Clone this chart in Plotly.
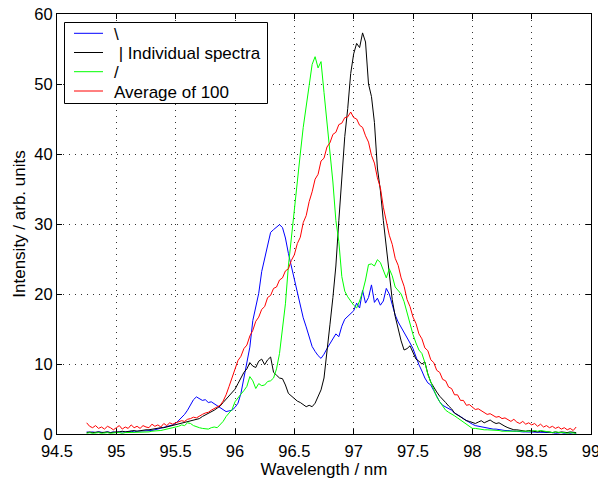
import numpy as np
import plotly.graph_objects as go

# Wavelength grid (nm): 94.75 .. 98.875 in 0.025 nm steps
wl_start = 94.75
wl_step = 0.025

blue = [
    0.3, 0.2, 0.3, 0.2, 0.3, 0.2, 0.2, 0.3, 0.2, 0.3,
    0.2, 0.3, 0.3, 0.2, 0.3, 0.4, 0.3, 0.4, 0.4, 0.5,
    0.4, 0.5, 0.5, 0.6, 0.7, 0.8, 0.9, 1.0, 1.2, 1.3,
    1.5, 1.9, 2.3, 2.8, 3.4, 4.2, 4.9, 5.3, 5.1, 4.8,
    4.9, 4.5, 4.6, 4.3, 4.1, 3.7, 3.5, 3.2, 3.3, 3.4,
    3.8, 4.4, 5.8, 8.0, 10.1, 12.4, 16.2, 18.0, 20.1, 23.2,
    25.0, 27.0, 28.8, 29.2, 29.5, 29.9, 29.5, 28.0, 25.8, 24.0,
    22.3, 20.6, 18.5, 16.6, 15.3, 13.8, 12.5, 11.8, 11.2, 10.8,
    11.4, 12.2, 12.9, 13.5, 14.3, 13.9, 15.4, 16.4, 16.8, 17.1,
    17.6, 18.7, 18.0, 20.5, 18.7, 19.5, 21.3, 18.8, 19.4, 18.4,
    19.0, 20.8, 20.0, 18.5, 17.0, 16.0, 15.3, 14.6, 13.9, 13.0,
    12.2, 10.9, 9.9, 9.0, 8.0, 7.3, 7.0, 6.2, 5.3, 4.6,
    4.1, 3.9, 3.6, 3.4, 3.0, 2.8, 2.5, 2.2, 1.9, 1.6,
    1.4, 1.2, 1.1, 1.0, 0.9, 0.9, 0.8, 0.7, 0.7, 0.6,
    0.6, 0.5, 0.5, 0.4, 0.4, 0.4, 0.3, 0.3, 0.3, 0.3,
    0.3, 0.2, 0.3, 0.2, 0.2, 0.2, 0.2, 0.2, 0.1, 0.2,
    0.2, 0.1, 0.2, 0.1, 0.2, 0.1,
]

black = [
    0.2, 0.3, 0.2, 0.3, 0.3, 0.2, 0.3, 0.3, 0.2, 0.3,
    0.3, 0.3, 0.4, 0.3, 0.4, 0.4, 0.5, 0.4, 0.5, 0.5,
    0.6, 0.6, 0.7, 0.7, 0.8, 0.9, 0.9, 1.0, 1.1, 1.2,
    1.3, 1.4, 1.5, 1.6, 1.8, 1.9, 2.0, 2.1, 2.2, 2.5,
    2.7, 2.9, 3.1, 3.4, 3.7, 4.0, 4.5, 5.0, 5.4, 5.9,
    6.4, 7.2, 8.1, 8.8, 9.3, 10.2, 9.7, 9.5, 10.4, 10.7,
    9.9, 10.6, 11.0, 8.8, 8.4, 8.0, 7.9, 7.0, 5.8, 5.4,
    5.1, 4.7, 4.5, 4.2, 3.9, 4.1, 3.9, 4.4, 5.3, 6.3,
    8.0, 11.5, 15.6, 19.5, 24.0, 30.5, 37.0, 42.5, 46.5, 51.5,
    54.3, 55.8, 55.2, 57.3, 56.0, 50.0, 48.2, 44.5, 38.0, 34.8,
    30.5, 27.0, 23.0, 19.2, 16.8, 14.8, 13.3, 12.0, 12.2, 12.6,
    11.6, 10.7, 10.4, 10.0, 10.3, 8.6, 7.4, 6.6, 6.0, 5.4,
    5.0, 4.5, 4.0, 3.6, 3.0, 2.7, 2.4, 2.1, 1.9, 1.8,
    1.6, 1.5, 1.7, 1.9, 1.6, 1.8, 2.0, 1.7, 1.5, 1.6,
    1.3, 1.1, 0.9, 0.7, 0.6, 0.6, 0.5, 0.5, 0.4, 0.5,
    0.4, 0.4, 0.3, 0.4, 0.3, 0.3, 0.3, 0.2, 0.3, 0.2,
    0.3, 0.2, 0.2, 0.3, 0.2, 0.2,
]

green = [
    0.1, 0.2, 0.1, 0.2, 0.2, 0.1, 0.2, 0.2, 0.1, 0.2,
    0.2, 0.2, 0.1, 0.2, 0.2, 0.2, 0.3, 0.2, 0.2, 0.3,
    0.3, 0.3, 0.4, 0.4, 0.5, 0.5, 0.6, 0.7, 0.7, 0.8,
    0.9, 1.1, 1.3, 1.2, 1.6, 1.5, 1.2, 1.0, 0.9, 0.8,
    0.8, 0.7, 0.9, 1.0, 0.9, 1.3, 1.8, 2.5, 3.0, 3.5,
    4.6, 5.2, 5.7, 6.2, 6.8, 8.2, 7.6, 6.5, 7.2, 6.9,
    7.0, 7.5, 7.6, 8.0, 9.3, 11.5, 14.8, 18.6, 24.0, 28.2,
    32.6, 36.5, 40.0, 43.8, 46.5, 49.8, 52.8, 53.9, 52.3, 53.2,
    48.8, 44.5, 40.0, 36.0, 30.5, 27.5, 22.5, 20.4, 19.6, 19.0,
    18.4, 18.0, 19.0, 20.3, 22.0, 24.2, 24.3, 24.0, 24.9, 24.5,
    23.5, 22.3, 23.6, 22.6, 21.0, 20.5, 20.0, 18.9, 17.2, 15.6,
    14.2, 13.0, 12.0, 11.5, 10.2, 8.5, 7.4, 6.3, 5.3, 4.6,
    3.9, 3.4, 3.1, 2.9, 2.6, 2.3, 2.0, 1.7, 1.4, 1.0,
    0.8, 0.8, 0.7, 0.7, 0.6, 0.6, 0.6, 0.5, 0.5, 0.5,
    0.4, 0.4, 0.4, 0.3, 0.3, 0.4, 0.3, 0.3, 0.3, 0.3,
    0.4, 0.5, 0.4, 0.5, 0.4, 0.3, 0.3, 0.2, 0.3, 0.2,
    0.2, 0.2, 0.1, 0.2, 0.2, 0.1,
]

red = [
    1.6, 1.1, 0.9, 1.2, 0.8, 1.0, 0.7, 1.1, 0.9, 0.6,
    0.9, 1.2, 0.7, 1.0, 0.8, 1.3, 0.9, 1.1, 0.8, 1.2,
    1.0, 0.9, 1.4, 1.1, 1.3, 1.0, 1.5, 1.2, 1.6, 1.4,
    1.6, 1.7, 1.9, 1.8, 2.1, 2.2, 2.4, 2.3, 2.6, 2.8,
    3.0, 3.1, 3.4, 3.6, 3.8, 4.1, 4.7, 5.6, 6.8, 8.0,
    9.2, 10.5, 11.1, 12.2, 12.7, 14.0, 14.8, 16.1, 16.7, 17.8,
    18.2, 19.5, 19.8, 20.8, 21.0, 22.0, 22.3, 23.3, 23.6, 24.8,
    25.6, 27.2, 28.1, 30.2, 31.2, 33.2, 34.6, 36.4, 37.1, 39.0,
    39.4, 41.0, 41.6, 42.8, 43.1, 44.2, 44.4, 45.2, 45.3, 46.0,
    45.2, 45.0, 44.1, 43.8, 42.6, 41.7, 39.8, 38.7, 36.6, 35.2,
    32.4, 30.6, 28.4, 27.1, 25.1, 24.1, 22.3, 21.1, 19.2, 18.2,
    16.7, 15.8, 14.3, 13.6, 12.3, 11.9, 10.6, 10.2, 9.1, 8.8,
    7.8, 7.6, 6.7, 6.5, 5.6, 5.6, 4.8, 4.8, 4.1, 4.2,
    3.8, 3.5, 3.6, 3.3, 3.1, 2.8, 2.9, 2.6, 2.4, 2.5,
    2.2, 2.3, 2.0, 1.8, 2.1, 1.7, 1.5, 1.8, 1.4, 1.6,
    1.3, 1.5, 1.1, 1.4, 1.0, 1.2, 0.9, 1.1, 0.8, 1.0,
    0.7, 0.9, 0.6, 0.8, 0.5, 1.0,
]

names = ["\\", "\u00a0| Individual spectra", "/", "Average of 100"]
colors = ["#0000ff", "#000000", "#00ff00", "#ff0000"]
series = [blue, black, green, red]

x_ticks = [94.5, 95, 95.5, 96, 96.5, 97, 97.5, 98, 98.5, 99]
y_ticks = [0, 10, 20, 30, 40, 50, 60]

wl = np.round(wl_start + wl_step * np.arange(len(red)), 4)

FONT = "Liberation Sans, Arial, sans-serif"
fig = go.Figure()
for nm, col, ys in zip(names, colors, series):
    fig.add_trace(go.Scatter(x=wl, y=ys, mode="lines", name=nm,
                             line=dict(color=col, width=1), showlegend=False))

axis_common = dict(
    showline=True, linecolor="black", linewidth=1, mirror="allticks",
    ticks="inside", ticklen=5, tickcolor="black", automargin=False,
    showgrid=True, gridcolor="#333333", gridwidth=1, griddash="1px,5px",
    zeroline=False, tickfont=dict(family=FONT, size=16.5, color="black"),
    ticklabeloverflow="allow",
)
fig.update_xaxes(range=[94.5, 99], tickvals=x_ticks,
                 ticktext=[f"{v:g}" for v in x_ticks], ticklabelstandoff=2,
                 title=dict(text="Wavelength / nm", font=dict(family=FONT, size=17, color="black"), standoff=2),
                 **axis_common)
fig.update_yaxes(range=[0, 60], tickvals=y_ticks,
                 title=dict(text="Intensity / arb. units", font=dict(family=FONT, size=17, color="black"), standoff=4),
                 **axis_common)

W, H = 598, 484
ML, MR, MT, MB = 57, 7, 14, 50
pw, ph = W - ML - MR, H - MT - MB


def px2paper(px, py):
    # page pixel -> paper fraction
    return (px - ML) / pw, (H - MB - py) / ph


shapes = []
annotations = []
bx0, by0 = px2paper(64.5, 22.5)
bx1, by1 = px2paper(267.5, 103.5)
shapes.append(dict(type="rect", xref="paper", yref="paper", x0=bx0, y0=by1, x1=bx1, y1=by0,
                   line=dict(color="black", width=1), fillcolor="white", layer="above"))
row_y = [33.3, 52.5, 71.7, 91.0]
for nm, col, ry in zip(names, colors, row_y):
    lx0, ly = px2paper(74, ry)
    lx1, _ = px2paper(103, ry)
    shapes.append(dict(type="line", xref="paper", yref="paper", x0=lx0, x1=lx1, y0=ly, y1=ly,
                       line=dict(color=col, width=1), layer="above"))
    tx, ty = px2paper(112, ry + 1)
    annotations.append(dict(xref="paper", yref="paper", x=tx, y=ty, text=nm, showarrow=False,
                            xanchor="left", yanchor="middle",
                            font=dict(family=FONT, size=17, color="black")))

fig.update_layout(
    width=W, height=H,
    margin=dict(l=ML, r=MR, t=MT, b=MB),
    paper_bgcolor="white", plot_bgcolor="white",
    font=dict(family=FONT, size=16, color="black"),
    showlegend=False,
    shapes=shapes, annotations=annotations,
)
fig.write_html("out.html",
               config={"displayModeBar": False},
               post_script="document.body.style.margin='0';document.body.style.overflow='hidden';")
